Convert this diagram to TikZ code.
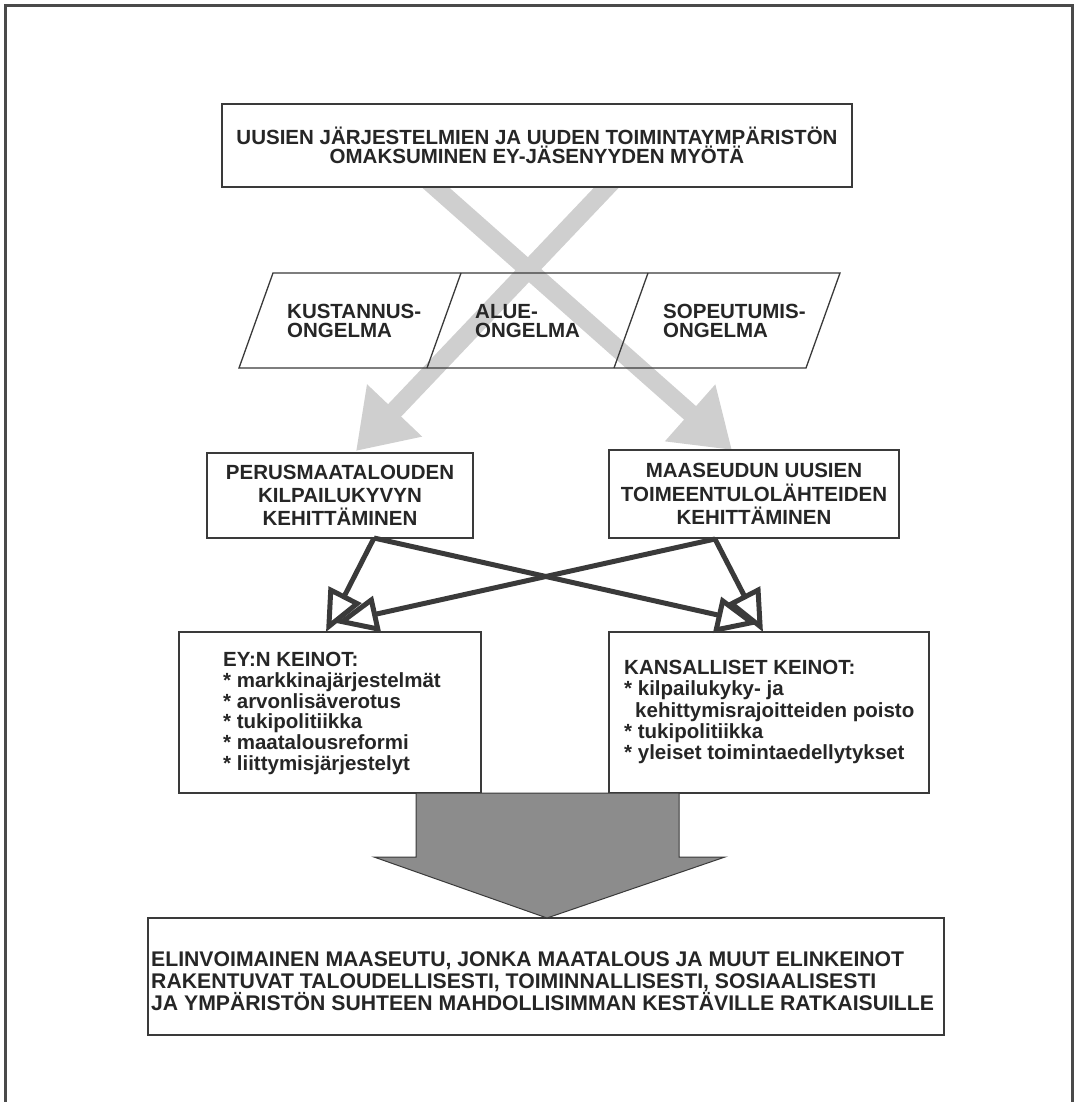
\documentclass[tikz,border=0pt]{standalone}
\usepackage{fontspec}
\setmainfont{Liberation Sans}
\usetikzlibrary{arrows.meta}
\definecolor{ink}{HTML}{262626}
\definecolor{linec}{HTML}{3A3A3A}
\definecolor{framec}{HTML}{4A4A4A}
\definecolor{lightg}{HTML}{CFCFCF}
\definecolor{bigg}{HTML}{8C8C8C}
\newcommand\dgfA{\bfseries\fontsize{20.5}{19.5}\selectfont}
\newcommand\dgfB{\bfseries\fontsize{20.5}{23.3}\selectfont}
\newcommand\dgfC{\bfseries\fontsize{20.5}{20.8}\selectfont}
\newcommand\dgfD{\bfseries\fontsize{20.5}{21.3}\selectfont}
\newcommand\dgfE{\bfseries\fontsize{21.2}{21.7}\selectfont}
\begin{document}
\begin{tikzpicture}[x=1pt,y=-1pt,
  box/.style={draw=linec, line width=1.3pt, fill=white, inner sep=0pt, text=ink},
  lbl/.style={text=ink, inner sep=0pt, align=left},
  pline/.style={draw=linec, line width=1.3pt},
  garrow/.style={draw=lightg, line width=18pt, -{Triangle[length=56pt,width=72pt,fill=lightg]}},
  barrow/.style={draw=linec, line width=5pt, -{Triangle[open,length=42pt,width=36pt]}},
]
\useasboundingbox (0,0) rectangle (1079,1102);
\fill[white] (0,0) rectangle (1079,1102);
% frame (open at the bottom)
\draw[draw=framec, line width=3pt] (5.5,1110) -- (5.5,6) -- (1072.5,6) -- (1072.5,1110);

% light grey crossing arrows
\coordinate (g1s) at (420,173.7);
\coordinate (g1e) at (732,450);
\coordinate (g2s) at (620.8,172.5);
\coordinate (g2e) at (356,451);
\draw[garrow] (g1s) -- (g1e);
\draw[garrow] (g2s) -- (g2e);

% top box
\node[box, minimum width=630pt, minimum height=83pt, align=center, font=\dgfA] (top) at (537,145.5)
  {UUSIEN JÄRJESTELMIEN JA UUDEN TOIMINTAYMPÄRISTÖN\\OMAKSUMINEN EY-JÄSENYYDEN MYÖTÄ};

% parallelogram strip
\draw[pline] (239,368) -- (273,273) -- (840,273) -- (806,368) -- cycle;
\draw[pline] (427,368) -- (461,273);
\draw[pline] (614,368) -- (648,273);
\node[lbl, font=\dgfA, anchor=west] (kust) at (287,321) {KUSTANNUS-\\ONGELMA};
\node[lbl, font=\dgfA, anchor=west] (alue) at (475,321) {ALUE-\\ONGELMA};
\node[lbl, font=\dgfA, anchor=west] (sope) at (663,321) {SOPEUTUMIS-\\ONGELMA};

% middle boxes
\node[box, minimum width=266pt, minimum height=85pt, align=center, font=\dgfB] (perus) at (340,495.5)
  {PERUSMAATALOUDEN\\KILPAILUKYVYN\\KEHITTÄMINEN};
\node[box, minimum width=290pt, minimum height=88pt, align=center, font=\dgfB] (maas) at (754,494)
  {MAASEUDUN UUSIEN\\TOIMEENTULOLÄHTEIDEN\\KEHITTÄMINEN};

% lower boxes
\node[box, minimum width=302pt, minimum height=161pt] (eyk) at (330,712.5) {};
\node[lbl, font=\dgfC, anchor=west] (eyt) at (223,713.5)
  {EY:N KEINOT:\\* markkinajärjestelmät\\* arvonlisäverotus\\* tukipolitiikka\\* maatalousreformi\\* liittymisjärjestelyt};
\node[box, minimum width=320pt, minimum height=161pt] (kk) at (769,712.5) {};
\node[lbl, font=\dgfD, anchor=west] (kkt) at (624,712)
  {KANSALLISET KEINOT:\\* kilpailukyky- ja\\\hspace*{11pt}kehittymisrajoitteiden poisto\\* tukipolitiikka\\* yleiset toimintaedellytykset};

% thick black crossing arrows
\coordinate (pA) at (374,538);
\coordinate (pB) at (715,539);
\coordinate (tA) at (326,632);
\coordinate (tB) at (758,624);
\coordinate (tC) at (336,623);
\coordinate (tD) at (763,632);
\draw[barrow] (pA) -- (tA);
\draw[barrow] (pA) -- (tB);
\draw[barrow] (pB) -- (tC);
\draw[barrow] (pB) -- (tD);

% bottom box
\node[box, minimum width=796pt, minimum height=117pt] (elin) at (546,976.5) {};
\node[lbl, font=\dgfE, anchor=west] (elint) at (151,981)
  {ELINVOIMAINEN MAASEUTU, JONKA MAATALOUS JA MUUT ELINKEINOT\\RAKENTUVAT TALOUDELLISESTI, TOIMINNALLISESTI, SOSIAALISESTI\\JA YMPÄRISTÖN SUHTEEN MAHDOLLISIMMAN KESTÄVILLE RATKAISUILLE};

% big grey arrow
\draw[draw=linec, line width=1pt, fill=bigg, line join=miter]
  (416,793) -- (679,793) -- (679,857) -- (725,857) -- (547,918) -- (374,857) -- (416,857) -- cycle;
\end{tikzpicture}
\end{document}
